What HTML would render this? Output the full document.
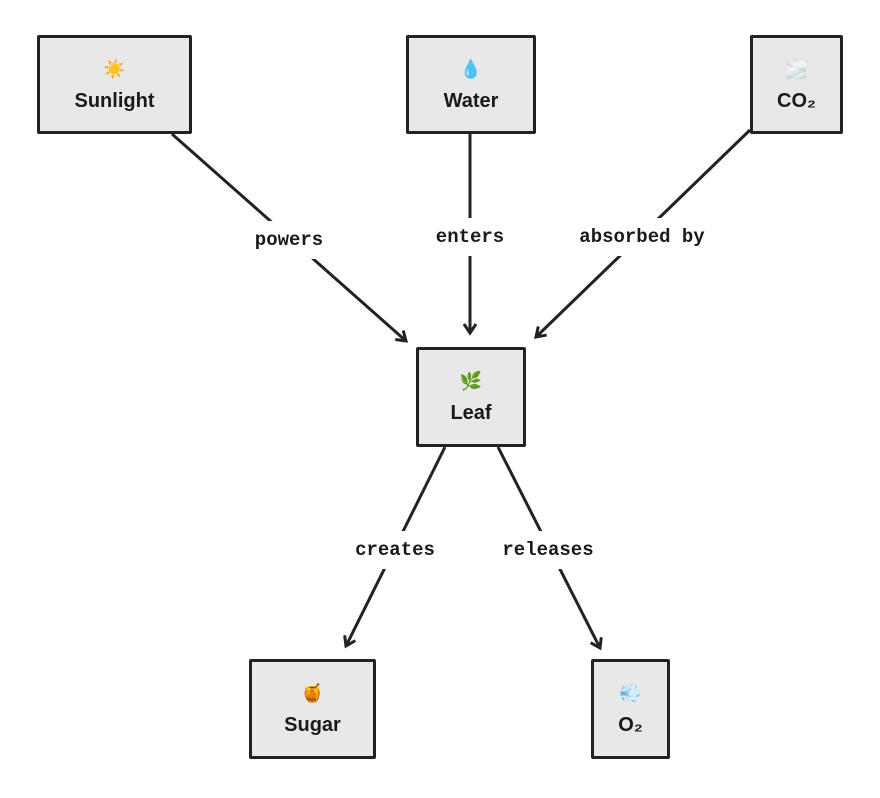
<!DOCTYPE html>
<html><head><meta charset="utf-8"><style>
body{margin:0;background:#fff;width:880px;height:798px;overflow:hidden;position:relative;font-family:"Liberation Sans","DejaVu Sans",sans-serif}
.n{position:absolute;box-sizing:border-box;border:3px solid #222;background:#e8e8e8;border-radius:2px;text-align:center;color:#1a1a1a;font-size:20px;font-weight:600}
.n .i{display:block;font-size:18px;height:24px;margin-top:19px;line-height:24px}
.n .t{display:block;margin-top:9px}
.l{position:absolute;background:#fff;font-family:"Liberation Mono",monospace;font-weight:bold;font-size:19px;color:#1a1a1a;padding:8px 8px;transform:translate(-50%,-50%);white-space:nowrap}
svg{position:absolute;left:0;top:0}
</style></head><body>
<svg width="880" height="798"><defs><marker id="a" markerWidth="14" markerHeight="14" refX="11" refY="7" orient="auto" markerUnits="userSpaceOnUse"><path d="M2,1 L11,7 L2,13" fill="none" stroke="#222" stroke-width="3"/></marker></defs>
<g stroke="#222" stroke-width="3" fill="none">
<line x1="172" y1="134" x2="406" y2="341" marker-end="url(#a)"/>
<line x1="470" y1="134" x2="470" y2="333" marker-end="url(#a)"/>
<line x1="750" y1="130" x2="536" y2="337" marker-end="url(#a)"/>
<line x1="445" y1="447" x2="346" y2="646" marker-end="url(#a)"/>
<line x1="498" y1="447" x2="600" y2="648" marker-end="url(#a)"/>
</g></svg>
<div class="n" style="left:37px;top:35px;width:155px;height:99px"><span class="i">☀️</span><span class="t">Sunlight</span></div>
<div class="n" style="left:406px;top:35px;width:130px;height:99px"><span class="i">💧</span><span class="t">Water</span></div>
<div class="n" style="left:750px;top:35px;width:93px;height:99px"><span class="i">🌫️</span><span class="t">CO₂</span></div>
<div class="n" style="left:416px;top:347px;width:110px;height:100px"><span class="i">🌿</span><span class="t">Leaf</span></div>
<div class="n" style="left:249px;top:659px;width:127px;height:100px"><span class="i">🍯</span><span class="t">Sugar</span></div>
<div class="n" style="left:591px;top:659px;width:79px;height:100px"><span class="i">💨</span><span class="t">O₂</span></div>
<div class="l" style="left:289px;top:240px">powers</div>
<div class="l" style="left:470px;top:237px">enters</div>
<div class="l" style="left:642px;top:237px">absorbed by</div>
<div class="l" style="left:395px;top:550px">creates</div>
<div class="l" style="left:548px;top:550px">releases</div>
</body></html>
